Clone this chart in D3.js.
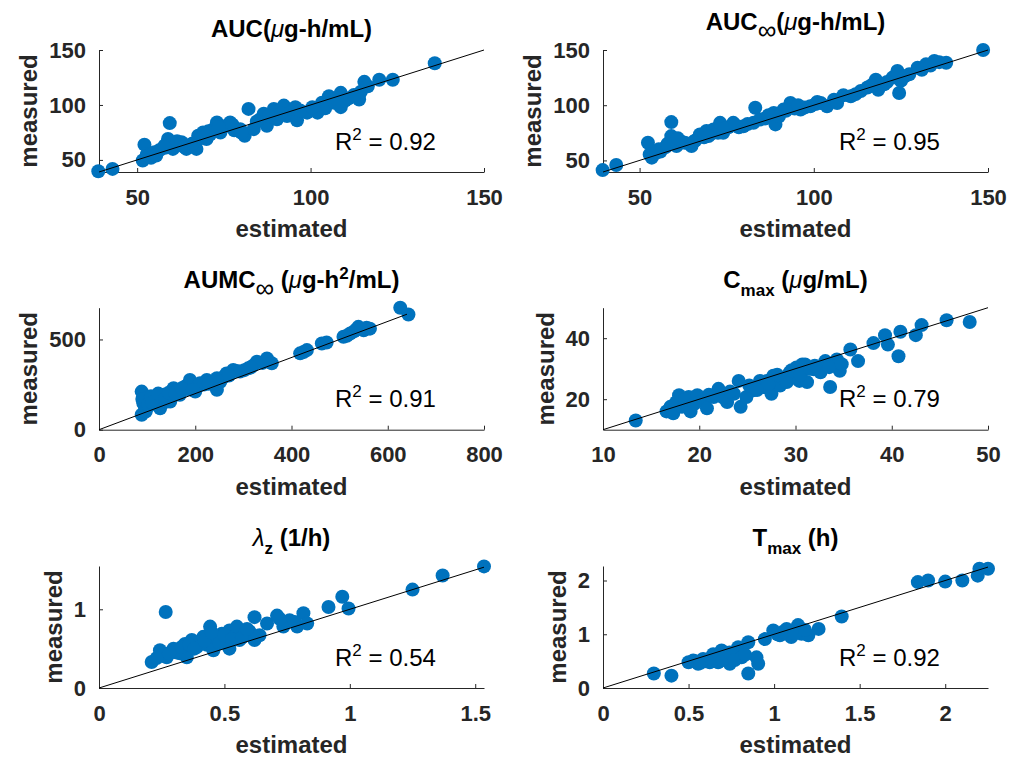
<!DOCTYPE html>
<meta charset="utf-8">
<style>
  body{ margin:0; background:#fff; }
  text{ font-family: "Liberation Sans", Arial, Helvetica, sans-serif; }
  .tick text{ font-size:22px; font-weight:bold; fill:#262626; }
  .domain, .tick line{ stroke:#262626; }
  .lbl{ font-size:24px; font-weight:bold; fill:#262626; }
  .ttl{ font-size:24px; font-weight:bold; fill:#000; }
  .r2{ font-size:24px; fill:#000; }
</style>
<body>
<div id="container"></div>
<script src="https://d3js.org/d3.v7.min.js"></script>
<script>

// values: estimated vs measured
var aucEst  = [38.8,42.9,51.6,52.1,52.8,53.1,54,55,56.5,57.9,58.9,59.4,60.3,61.5,62.8,64.2,65.5,67.1,67.6,69,70,71,72,73,74,75.8,76.8,78,79.7,81,82.1,83.6,85.5,86.5,87.4,88.5,89.4,90.3,91.2,92.3,93.2,94.2,95.6,96.1,99,102,103.3,104.2,105.3,106.8,108.7,108.7,110,111,114,114.5,115.5,119.8,123.7,135.8,
               55.5,58,63.5,66,68.5,70.5,73.5,77.5,80,84.5,88,91.5,97,100.5,107.5,112.5,116.5];
var aucMeas = [39.7,41.8,49.4,63.9,55,53.9,52,57,59,63,69,83.5,60,67,66,60,64,60,72,75,69,73,78,84,75,81,84,77,78,72,96.4,78,87,92,81,89,96.4,87,95,99.4,90,93,98,86,93,93,102,97,108,102,111,98,104,106,105,112,121,123,123,138,
               54,61,62,65,70,76,80,82,75,85,90,92,95,98,106,109,117];

var aucInfEst  = [39.4,43.3,52.4,52.9,53.5,54.8,56,57.5,59.1,59.1,60.6,62,63,64.9,66,67.3,68.5,69.2,70.5,71.2,72.5,73.1,74,75.5,76.9,78.5,79.8,81,82.7,83.2,86,88.5,89,90,91.3,93.3,94.5,96.2,97.5,99,100.5,102,103.8,105.8,106.7,110.6,112,113.5,115.4,117.8,118.5,120.2,122.6,124,124.5,125,127.4,129.8,132.2,134.6,136,138,148.6,
                  55.5,58,61,65.5,69.8,74.5,77.5,84.5,87,92,95.5,101,108.5,116.5,121,126,131,133.5];
var aucInfMeas = [41.2,45.8,66,55.4,52.5,57,58,62,84.7,72,63,67,66,63,68,73.5,71,76.6,74,78,75,84,75,80,84,80,81,83,84,97.7,88,93,82.6,90,96,102,97,96,98,99,101,102,99,105,102,108,110,112.8,116,123,114,119,125,131,111,122,128,134,137,140,139,138.4,150,
                  60,65,70,67,72,79,82,87,91,95,100,103,109,118,121,126,132,136];

var aumcEst  = [88.7,88.7,92,95,99,105,113,117,120,127,130,134,141,148,152,155,162,168,179,185,189,200,205,210,218,224,235,245,245,258,265,279,286,293,302,310,320,328,340,349,359,418,425,432,463,473,508,515,522,530,539,550,556,563,626,643,
                90,97,102,108,110,123,137,145,158,172,195,228,252,270,315,535,545];
var aumcMeas = [211,83,147,130,119,165,175,150,138,119,180,193,156,156,185,230,215,193,239,225,276,211,240,257,250,276,265,221,285,290,312,331,325,322,330,340,355,377,370,395,368,423,430,441,478,483,515,520,533,545,570,551,565,560,676,638,
                170,100,140,185,150,200,170,205,200,230,220,255,265,300,345,555,560];

var cmaxEst  = [13.4,16.6,17,17.3,17.9,18.2,18.9,19.1,19.8,20.3,20.8,21.5,22,22.9,23.6,24.1,24.3,24.9,25.6,26.3,26.8,27,27.5,27.7,28.4,28.8,29.1,29.4,29.8,30.1,30.4,30.7,31,31.2,31.9,32.6,33.1,33.6,34.3,34.6,35.7,36.5,38.1,39.3,39.6,40.7,40.9,42.5,43.1,45.7,48.1,
                17.6,18.5,19.5,21,22.5,23.2,25.2,26,27.2,28.1,29.6,30.5,31.5,32,33.5,34.8];
var cmaxMeas = [13,16,17.5,15.4,21.3,17.5,20.7,16,21.3,19.5,17,20.7,23.4,19.1,21.8,26,17.5,20.7,22.9,26,24,26,21.8,27.7,24.5,26.6,25.6,28.8,27.2,30.4,26,31.4,31.4,25.6,29.8,28.8,32.5,24,33,29.3,36.3,32.5,38.4,41,37.9,34.1,42.1,41,44.3,45.9,45.3,
                19,19.8,18.5,21.5,20.5,22.5,24.5,23,25,28,29.5,28,30,31,30.5,31.5];

var lzEst  = [0.21,0.243,0.266,0.27,0.297,0.31,0.323,0.343,0.35,0.37,0.39,0.40,0.416,0.43,0.436,0.443,0.456,0.47,0.49,0.505,0.52,0.52,0.54,0.55,0.56,0.58,0.6,0.62,0.62,0.64,0.67,0.71,0.735,0.76,0.79,0.815,0.83,0.915,0.97,0.995,1.25,1.37,1.535,
              0.23,0.28,0.33,0.36,0.38,0.42,0.45,0.48,0.5,0.53,0.57,0.59,0.72,0.78];
var lzMeas = [0.33,0.48,0.966,0.39,0.5,0.45,0.44,0.56,0.39,0.61,0.52,0.58,0.65,0.55,0.61,0.78,0.48,0.65,0.69,0.6,0.5,0.73,0.66,0.78,0.61,0.69,0.72,0.61,0.9,0.67,0.82,0.92,0.78,0.86,0.78,0.95,0.82,1.03,1.16,1.01,1.25,1.43,1.545,
              0.38,0.44,0.52,0.55,0.5,0.6,0.7,0.57,0.67,0.62,0.64,0.75,0.88,0.84];

var tmaxEst  = [0.297,0.4,0.5,0.527,0.556,0.585,0.6,0.624,0.644,0.66,0.673,0.693,0.722,0.741,0.761,0.79,0.81,0.849,0.849,0.897,0.907,0.946,0.995,1.034,1.073,1.1,1.14,1.16,1.2,1.26,1.395,1.84,1.9,2.0,2.1,2.19,2.2,2.25,
                0.54,0.57,0.63,0.68,0.7,0.74,0.77,0.83,1.02,1.05,1.12,1.18];
var tmaxMeas = [0.27,0.23,0.48,0.51,0.45,0.54,0.5,0.48,0.63,0.55,0.48,0.7,0.57,0.45,0.6,0.76,0.57,0.85,0.27,0.57,0.45,0.91,1.07,0.98,1.1,0.95,1.17,1.01,0.98,1.1,1.33,1.97,2.0,1.98,2.0,2.09,2.22,2.22,
                0.5,0.47,0.56,0.62,0.52,0.66,0.52,0.62,1.0,1.04,1.02,1.08];

var r2Values = [0.92, 0.95, 0.91, 0.79, 0.54, 0.92];

var xLimits = [[39,150],[39.5,150],[0,800],[10,50],[0,1.535],[0,2.25]];
var yLimits = [[39,150],[39.5,150],[0,676],[10,50],[0,1.55],[0,2.27]];
var lineLimits = [[39,150],[39.5,150],[0,640],[10,50],[0,1.535],[0,2.25]];

var xTicks = [[50,100,150],[50,100,150],[0,200,400,600,800],[10,20,30,40,50],[0,0.5,1,1.5],[0,0.5,1,1.5,2]];
var yTicks = [[50,100,150],[50,100,150],[0,500],[20,40],[0,1],[0,1,2]];

// title pieces: [text, style]  style: '' normal, 'mu' italic greek, 'sub', 'inf', 'sup'
var titles = [
  [['AUC(',''],['\u03bc','mu'],['g-h/mL)','']],
  [['AUC',''],['\u221e','inf'],['(',''],['\u03bc','mu'],['g-h/mL)','']],
  [['AUMC',''],['\u221e','inf'],[' (',''],['\u03bc','mu'],['g-h',''],['2','sup'],['/mL)','']],
  [['C',''],['max','sub'],[' (',''],['\u03bc','mu'],['g/mL)','']],
  [['\u03bb','mu'],['z','sub'],[' (1/h)','']],
  [['T',''],['max','sub'],[' (h)','']]
];

var series = [[aucEst,aucMeas],[aucInfEst,aucInfMeas],[aumcEst,aumcMeas],[cmaxEst,cmaxMeas],[lzEst,lzMeas],[tmaxEst,tmaxMeas]];

var W = 1019, H = 758;
var colLeft = [99, 603], rowTop = [50, 307.7, 566];
var pw = 385, ph = 122;

var svg = d3.select('#container').append('svg').attr('width',W).attr('height',H);
var fmt = d3.format('~g');

series.forEach(function(s, i){
  var left = colLeft[i % 2], top = rowTop[Math.floor(i / 2)];
  var g = svg.append('g').attr('transform','translate('+left+','+top+')');

  var x = d3.scaleLinear().domain(xLimits[i]).range([0,pw]);
  var y = d3.scaleLinear().domain(yLimits[i]).range([ph,0]);

  g.append('g').attr('transform','translate(0,'+ph+')')
    .call(d3.axisBottom(x).tickValues(xTicks[i]).tickFormat(fmt).tickSizeInner(-4).tickSizeOuter(0).tickPadding(17));
  var ya = g.append('g')
    .call(d3.axisLeft(y).tickValues(yTicks[i]).tickFormat(fmt).tickSizeInner(-4).tickSizeOuter(0).tickPadding(13));

  var pts = s[0].map(function(v,k){ return [v, s[1][k]]; });
  g.selectAll('circle').data(pts).enter().append('circle')
    .attr('cx', function(d){ return x(d[0]); })
    .attr('cy', function(d){ return y(d[1]); })
    .attr('r', 7)
    .attr('fill','#0072BD');

  var L = lineLimits[i];
  g.append('line')
    .attr('x1', x(L[0])).attr('y1', y(L[0]))
    .attr('x2', x(L[1])).attr('y2', y(L[1]))
    .attr('stroke','#000').attr('stroke-width',1);

  // y label sits left of the widest tick label
  var tw = 0;
  ya.selectAll('.tick text').each(function(){ tw = Math.max(tw, this.getBBox().width); });
  g.append('text').attr('class','lbl')
    .attr('transform','translate('+(-(tw + 25))+','+(ph/2)+') rotate(-90)')
    .attr('text-anchor','middle')
    .text('measured');

  g.append('text').attr('class','lbl')
    .attr('x', pw/2).attr('y', ph + 65)
    .attr('text-anchor','middle')
    .text('estimated');

  // title with sub/superscripts
  var hasSub = titles[i].some(function(p){ return p[1] === 'sub' || p[1] === 'inf'; });
  var t = g.append('text').attr('class','ttl')
    .attr('x', pw/2).attr('y', hasSub ? -20 : -13)
    .attr('text-anchor','middle');
  var shift = 0;
  titles[i].forEach(function(p){
    var want = p[1] === 'sub' ? 8 : (p[1] === 'inf' ? 9 : (p[1] === 'sup' ? -9 : 0));
    var ts = t.append('tspan').text(p[0]).attr('dy', want - shift);
    shift = want;
    if(p[1] === 'sub' || p[1] === 'sup') ts.style('font-size','17px');
    if(p[1] === 'inf') ts.style('font-size','26px').style('font-weight','normal');
    if(p[1] === 'mu') ts.style('font-style','italic').style('font-weight','normal');
  });

  var r = g.append('text').attr('class','r2')
    .attr('x', pw*0.613).attr('y', ph*0.818);
  r.append('tspan').text('R');
  r.append('tspan').text('2').attr('dy',-10).style('font-size','17px');
  r.append('tspan').text(' = ' + d3.format('.2f')(r2Values[i])).attr('dy',10);
});

</script>
</body>
</html>
